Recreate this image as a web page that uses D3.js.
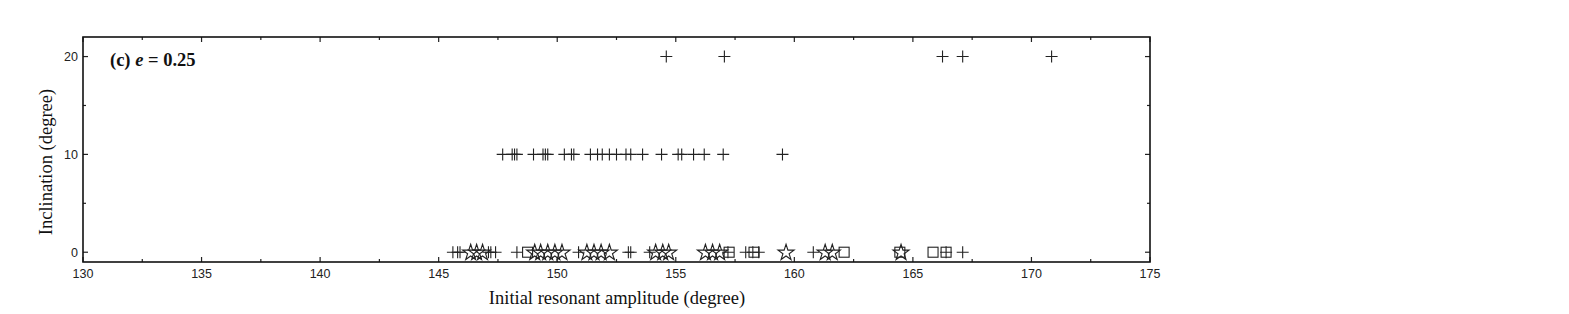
<!DOCTYPE html>
<html lang="en">
<head>
  <meta charset="UTF-8">
  <title>Inclination vs initial resonant amplitude, e = 0.25</title>
  <script src="https://d3js.org/d3.v7.min.js"></script>
  <style>
    body { margin: 0; padding: 0; background: #fff; }
    svg { display: block; }
    .tick-label { font-family: "Liberation Sans", Arial, sans-serif; font-size: 12.5px; fill: #222; }
    .axis-title { font-family: "Liberation Serif", "Times New Roman", serif; font-size: 18.5px; fill: #111; }
    .mark { fill: none; stroke: #222; stroke-width: 1.1px; }
  </style>
</head>
<body>
  <div id="chart"></div>

  <script>
    const width = 1569;
    const height = 314;

    // x ticks (labelled) and y ticks
    const xTickLabels = [130, 135, 140, 145, 150, 155, 160, 165, 170, 175];
    const yTickLabels = [0, 10, 20];

    // inclination = 20
    const plus20 = [154.6, 157.05, 166.25, 167.1, 170.85];

    // inclination = 10
    const plus10 = [147.7, 148.1, 148.2, 148.3, 149.0, 149.4, 149.5, 149.6, 150.3, 150.6,
                    150.7, 151.4, 151.7, 151.9, 152.2, 152.5, 152.9, 153.1, 153.6, 154.4,
                    155.1, 155.25, 155.75, 156.2, 157.0, 159.5];

    // inclination = 0
    const plus0 = [145.6, 145.8, 145.9, 147.1, 147.2, 147.4, 148.3, 150.9, 153.0, 153.1,
                   153.9, 157.2, 157.95, 158.25, 158.5, 160.8, 166.4, 167.1];
    const star0 = [146.35, 146.6, 146.85, 149.05, 149.3, 149.6, 149.9, 150.2, 151.25, 151.55,
                   151.85, 152.2, 154.15, 154.45, 154.7, 156.25, 156.55, 156.85, 159.65, 161.3,
                   161.6, 164.5];
    const square0 = [148.75, 157.25, 158.3, 162.1, 164.45, 165.85, 166.4];

    const pLeft = 83, pRight = 1150, pTop = 37, pBottom = 262;

    const x = d3.scaleLinear().domain([130, 175]).range([pLeft, pRight]);
    const y = d3.scaleLinear().domain([-1, 22]).range([pBottom, pTop]);

    const svg = d3.select("#chart").append("svg")
      .attr("width", width)
      .attr("height", height);

    // minor + major ticks, all pointing inward
    const xMinor = d3.range(130, 175.01, 2.5);
    const yMinor = d3.range(0, 20.01, 5);

    const axisG = svg.append("g").attr("stroke", "#222").attr("stroke-width", 1.2);

    xMinor.forEach(v => {
      const len = v % 5 === 0 ? 5 : 3;
      axisG.append("line").attr("x1", x(v)).attr("x2", x(v)).attr("y1", pBottom).attr("y2", pBottom - len);
      axisG.append("line").attr("x1", x(v)).attr("x2", x(v)).attr("y1", pTop).attr("y2", pTop + len);
    });
    yMinor.forEach(v => {
      const len = v % 10 === 0 ? 5 : 3;
      axisG.append("line").attr("x1", pLeft).attr("x2", pLeft + len).attr("y1", y(v)).attr("y2", y(v));
      axisG.append("line").attr("x1", pRight).attr("x2", pRight - len).attr("y1", y(v)).attr("y2", y(v));
    });

    // frame
    svg.append("rect")
      .attr("x", pLeft).attr("y", pTop)
      .attr("width", pRight - pLeft).attr("height", pBottom - pTop)
      .attr("fill", "none").attr("stroke", "#111").attr("stroke-width", 1.6);

    // tick labels
    svg.append("g").selectAll("text")
      .data(xTickLabels).enter().append("text")
      .attr("class", "tick-label")
      .attr("x", d => x(d)).attr("y", 278)
      .attr("text-anchor", "middle")
      .text(d => d);

    svg.append("g").selectAll("text")
      .data(yTickLabels).enter().append("text")
      .attr("class", "tick-label")
      .attr("x", pLeft - 5).attr("y", d => y(d) + 4.5)
      .attr("text-anchor", "end")
      .text(d => d);

    // axis titles
    svg.append("text")
      .attr("class", "axis-title")
      .attr("x", 617).attr("y", 304)
      .attr("text-anchor", "middle")
      .text("Initial resonant amplitude (degree)");

    svg.append("text")
      .attr("class", "axis-title")
      .attr("transform", "translate(52,162) rotate(-90)")
      .attr("text-anchor", "middle")
      .text("Inclination (degree)");

    // panel label
    const lab = svg.append("text")
      .attr("x", 110).attr("y", 66)
      .attr("font-family", "'Liberation Serif', 'Times New Roman', serif")
      .attr("font-size", "18.5px")
      .attr("font-weight", "bold")
      .attr("fill", "#111");
    lab.append("tspan").text("(c) ");
    lab.append("tspan").attr("font-style", "italic").text("e");
    lab.append("tspan").text(" = 0.25");

    // markers
    const plusPath = "M-6,0H6M0,-6V6";
    const starPath = d3.symbol().type(d3.symbolStar).size(80)();

    const marks = svg.append("g");

    function drawPlus(data, inc) {
      marks.append("g").selectAll("path")
        .data(data).enter().append("path")
        .attr("class", "mark")
        .attr("d", plusPath)
        .attr("transform", d => `translate(${x(d)},${y(inc)})`);
    }

    drawPlus(plus20, 20);
    drawPlus(plus10, 10);
    drawPlus(plus0, 0);

    marks.append("g").selectAll("rect")
      .data(square0).enter().append("rect")
      .attr("class", "mark")
      .attr("x", d => x(d) - 5).attr("y", y(0) - 5)
      .attr("width", 10).attr("height", 10);

    marks.append("g").selectAll("path")
      .data(star0).enter().append("path")
      .attr("class", "mark")
      .attr("d", starPath)
      .attr("transform", d => `translate(${x(d)},${y(0) + 0.5})`);
  </script>
</body>
</html>
